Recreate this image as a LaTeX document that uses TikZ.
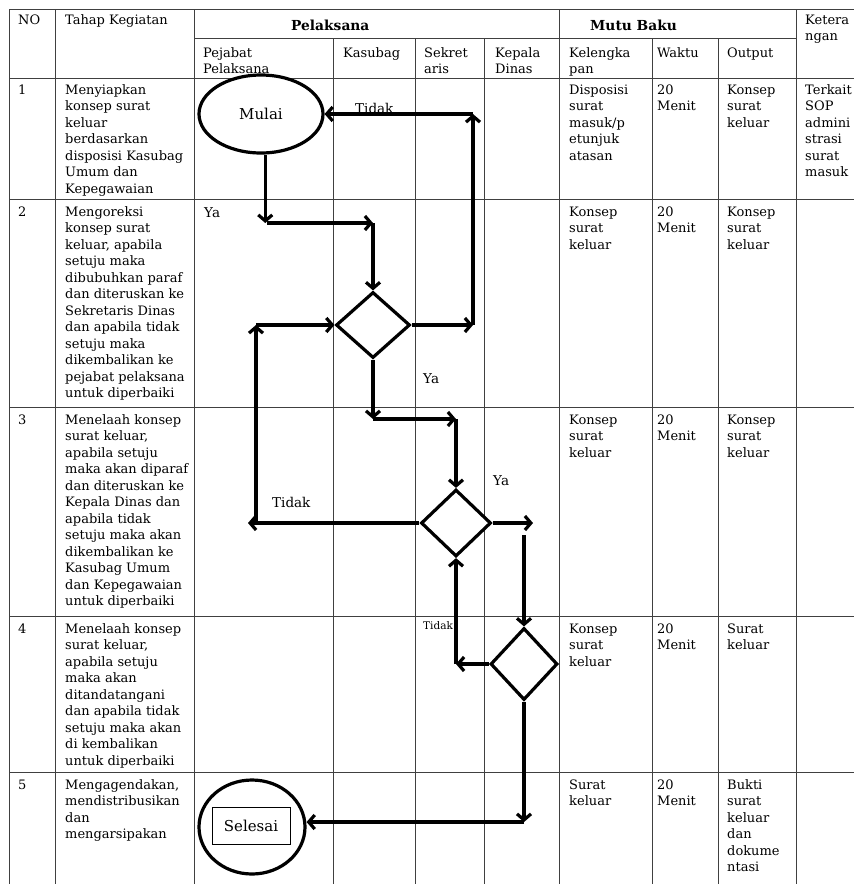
\documentclass[tikz,border=0pt]{standalone}
\usepackage{fontspec}
\setmainfont{DejaVu Serif}
\usetikzlibrary{shapes.geometric,arrows.meta}
\begin{document}
\begin{tikzpicture}[x=1pt,y=-1pt,
  grid/.style={draw=black!75, line width=1pt},
  celltext/.style={anchor=north west, inner sep=0pt, align=left, font=\fontsize{13}{16.5}\selectfont},
  headbold/.style={anchor=base west, inner sep=0pt, font=\fontsize{13.8}{16.5}\selectfont\bfseries},
  flow/.style={line width=3.2pt},
  arr/.style={flow, -{Straight Barb[length=6pt,width=14pt]}},
  lbl/.style={anchor=base west, inner sep=0pt, font=\fontsize{13.5}{16}\selectfont},
  smalllbl/.style={anchor=base west, inner sep=0pt, font=\fontsize{10.5}{12}\selectfont},
  decision/.style={draw, diamond, flow, fill=white, inner sep=0pt},
  terminal/.style={draw, ellipse, flow, fill=white, inner sep=0pt, font=\fontsize{15}{18}\selectfont}
]
\useasboundingbox (0,0) rectangle (854,884);
\clip (0,0) rectangle (854,884);
\fill[white] (0,0) rectangle (854,884);

% ---------- table grid ----------
\draw[grid] (9,9) -- (860,9);
\draw[grid] (194,38) -- (796,38);
\foreach \yy in {78,199,407,616,772} \draw[grid] (9,\yy) -- (860,\yy);
\foreach \xx in {9,55,194,559,796} \draw[grid] (\xx,9) -- (\xx,890);
\foreach \xx in {333,415,484,652,718} \draw[grid] (\xx,38) -- (\xx,890);

% ---------- header ----------
\node[celltext] (hno) at (18,12.45) {\strut NO};
\node[celltext] (htahap) at (65,12.45) {\strut Tahap Kegiatan};
\node[headbold] (hpel) at (291,30) {Pelaksana};
\node[headbold] (hmutu) at (590,30) {Mutu Baku};
\node[celltext] (hket) at (805,12.45) {\strut Ketera\\ngan};
\node[celltext] (hpej) at (203,45.45) {\strut Pejabat\\Pelaksana};
\node[celltext] (hkas) at (343,45.45) {\strut Kasubag};
\node[celltext] (hsek) at (424,45.45) {\strut Sekret\\aris};
\node[celltext] (hkep) at (495,45.45) {\strut Kepala\\Dinas};
\node[celltext] (hkel) at (569,45.45) {\strut Kelengka\\pan};
\node[celltext] (hwak) at (657,45.45) {\strut Waktu};
\node[celltext] (hout) at (727,45.45) {\strut Output};

% ---------- row 1 ----------
\node[celltext] (r1n) at (18,82.45) {\strut 1};
\node[celltext] (r1t) at (65,82.45) {\strut Menyiapkan\\konsep surat\\keluar\\berdasarkan\\disposisi Kasubag\\Umum dan\\Kepegawaian};
\node[celltext] (r1k) at (569,82.45) {\strut Disposisi\\surat\\masuk/p\\etunjuk\\atasan};
\node[celltext] (r1w) at (657,82.45) {\strut 20\\Menit};
\node[celltext] (r1o) at (727,82.45) {\strut Konsep\\surat\\keluar};
\node[celltext] (r1x) at (805,82.45) {\strut Terkait\\SOP\\admini\\strasi\\surat\\masuk};

% ---------- row 2 ----------
\node[celltext] (r2n) at (18,204.45) {\strut 2};
\node[celltext] (r2t) at (65,204.45) {\strut Mengoreksi\\konsep surat\\keluar, apabila\\setuju maka\\dibubuhkan paraf\\dan diteruskan ke\\Sekretaris Dinas\\dan apabila tidak\\setuju maka\\dikembalikan ke\\pejabat pelaksana\\untuk diperbaiki};
\node[celltext] (r2k) at (569,204.45) {\strut Konsep\\surat\\keluar};
\node[celltext] (r2w) at (657,204.45) {\strut 20\\Menit};
\node[celltext] (r2o) at (727,204.45) {\strut Konsep\\surat\\keluar};

% ---------- row 3 ----------
\node[celltext] (r3n) at (18,412.45) {\strut 3};
\node[celltext] (r3t) at (65,412.45) {\strut Menelaah konsep\\surat keluar,\\apabila setuju\\maka akan diparaf\\dan diteruskan ke\\Kepala Dinas dan\\apabila tidak\\setuju maka akan\\dikembalikan ke\\Kasubag Umum\\dan Kepegawaian\\untuk diperbaiki};
\node[celltext] (r3k) at (569,412.45) {\strut Konsep\\surat\\keluar};
\node[celltext] (r3w) at (657,412.45) {\strut 20\\Menit};
\node[celltext] (r3o) at (727,412.45) {\strut Konsep\\surat\\keluar};

% ---------- row 4 ----------
\node[celltext] (r4n) at (18,621.45) {\strut 4};
\node[celltext] (r4t) at (65,621.45) {\strut Menelaah konsep\\surat keluar,\\apabila setuju\\maka akan\\ditandatangani\\dan apabila tidak\\setuju maka akan\\di kembalikan\\untuk diperbaiki};
\node[celltext] (r4k) at (569,621.45) {\strut Konsep\\surat\\keluar};
\node[celltext] (r4w) at (657,621.45) {\strut 20\\Menit};
\node[celltext] (r4o) at (727,621.45) {\strut Surat\\keluar};

% ---------- row 5 ----------
\node[celltext] (r5n) at (18,777.45) {\strut 5};
\node[celltext] (r5t) at (65,777.45) {\strut Mengagendakan,\\mendistribusikan\\dan\\mengarsipakan};
\node[celltext] (r5k) at (569,777.45) {\strut Surat\\keluar};
\node[celltext] (r5w) at (657,777.45) {\strut 20\\Menit};
\node[celltext] (r5o) at (727,777.45) {\strut Bukti\\surat\\keluar\\dan\\dokume\\ntasi};

% ---------- flow shapes ----------
\node[terminal, minimum width=124pt, minimum height=78pt] (m) at (261,114) {Mulai};
\node[decision, minimum width=74pt, minimum height=66pt] (d1) at (373,325) {};
\node[decision, minimum width=70pt, minimum height=67pt] (d2) at (456,523) {};
\node[decision, minimum width=67pt, minimum height=72pt] (d3) at (524,664) {};
\node[terminal, minimum width=106pt, minimum height=94pt] (s) at (252,827) {};
\node[draw, line width=1pt, minimum width=78pt, minimum height=37pt, inner sep=0pt, font=\fontsize{15}{18}\selectfont] (sb) at (251,825.5) {Selesai};

% ---------- coordinates ----------
\coordinate (c1) at (267,223);
\coordinate (c2) at (373,223);
\coordinate (c3) at (473,325);
\coordinate (c4) at (473,114);
\coordinate (c5) at (373,419);
\coordinate (c6) at (456,419);
\coordinate (c7) at (248,523);
\coordinate (c8) at (256,521);
\coordinate (c9) at (256,325);
\coordinate (c10) at (533,523);
\coordinate (c11) at (524,535);
\coordinate (c12) at (456,664);
\coordinate (c13) at (524,822);

% ---------- connectors ----------
\draw[arr] (m.-84) -- (m.-84 |- c1);
\draw[arr] (c1) -- (c2);
\draw[arr] (c2) -- (d1.north);
\draw[arr] (d1.east) -- (c3);
\draw[arr] (c3) -- (c4);
\draw[arr] (c4) -- (m.east);
\draw[arr] (d1.south) -- (c5);
\draw[arr] (c5) -- (c6);
\draw[arr] (c6) -- (d2.north);
\draw[arr] (d2.west) -- (c7);
\draw[arr] (c8) -- (c9);
\draw[arr] (c9) -- (d1.west);
\draw[arr] (d2.east) -- (c10);
\draw[arr] (c11) -- (d3.north);
\draw[arr] (d3.west) -- (c12);
\draw[arr] (c12) -- (d2.south);
\draw[arr] (d3.south) -- (c13);
\draw[arr] (c13) -- (c13 -| s.east);

% ---------- labels ----------
\node[lbl] (l1) at (355,113) {Tidak};
\node[lbl] (l2) at (204,217) {Ya};
\node[lbl] (l3) at (423,383) {Ya};
\node[lbl] (l4) at (272,507) {Tidak};
\node[lbl] (l5) at (493,485) {Ya};
\node[smalllbl] (l6) at (423,629) {Tidak};
\end{tikzpicture}
\end{document}
